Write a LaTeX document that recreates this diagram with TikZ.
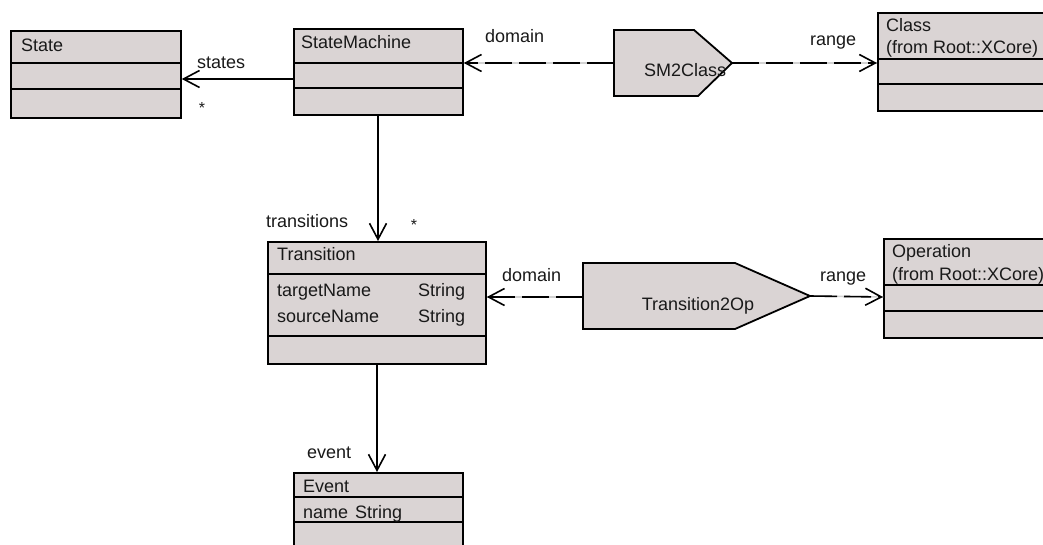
\documentclass[tikz,border=0pt]{standalone}
\usepackage{fontspec}
\setmainfont{Liberation Sans}
\usetikzlibrary{arrows.meta}
\definecolor{boxfill}{RGB}{218,212,212}
\definecolor{txtcol}{RGB}{25,25,25}
\begin{document}
\begin{tikzpicture}[x=1pt,y=-1pt,
  cls/.style={draw=black, line width=1.8pt, fill=boxfill, rectangle, inner sep=0pt, anchor=north west},
  divider/.style={line width=1.6pt},
  mapshape/.style={draw=black, line width=1.8pt, fill=boxfill, line join=miter},
  txt/.style={anchor=base west, inner sep=0pt, text=txtcol, font=\fontsize{18}{22}\selectfont},
  ctxt/.style={anchor=base, inner sep=0pt, text=txtcol, font=\fontsize{18}{22}\selectfont},
  star/.style={inner sep=0pt, text=txtcol, font=\fontsize{16}{18}\selectfont},
  tip/.style={-{Straight Barb[length=16pt,width=17pt,line width=1.6pt]}},
  assoc/.style={line width=1.6pt, tip},
  depbase/.style={line width=1.6pt, gray!35},
  dep/.style={line width=1.6pt, dash pattern=on 27pt off 7pt, tip}
]
\useasboundingbox (0,0) rectangle (1043,545);

% ---------- class boxes ----------
\node[cls, minimum width=170pt, minimum height=87pt] (state) at (10,30) {};
\draw[divider] (10,63) -- (180,63);
\draw[divider] (10,89) -- (180,89);
\node[txt] (stateT) at (21,52) {State};

\node[cls, minimum width=169pt, minimum height=86pt] (sm) at (293,28) {};
\draw[divider] (293,63) -- (462,63);
\draw[divider] (293,88) -- (462,88);
\node[txt] (smT) at (301,49) {StateMachine};

\node[cls, minimum width=180pt, minimum height=98pt] (cls) at (877,12) {};
\draw[divider] (877,59) -- (1057,59);
\draw[divider] (877,84) -- (1057,84);
\node[txt] (clsT1) at (886,32) {Class};
\node[txt] (clsT2) at (886,54) {(from Root::XCore)};

\node[cls, minimum width=180pt, minimum height=99pt] (op) at (883,238) {};
\draw[divider] (883,285) -- (1063,285);
\draw[divider] (883,311) -- (1063,311);
\node[txt] (opT1) at (892,258) {Operation};
\node[txt] (opT2) at (892,280) {(from Root::XCore)};

\node[cls, minimum width=218pt, minimum height=122pt] (tr) at (267,241) {};
\draw[divider] (267,274) -- (485,274);
\draw[divider] (267,336) -- (485,336);
\node[txt] (trT) at (277,261) {Transition};
\node[txt] (trA1) at (277,296) {targetName};
\node[txt] (trA1t) at (418,296) {String};
\node[txt] (trA2) at (277,322) {sourceName};
\node[txt] (trA2t) at (418,322) {String};

\node[cls, minimum width=169pt, minimum height=90pt] (ev) at (293,472) {};
\draw[divider] (293,497) -- (462,497);
\draw[divider] (293,522) -- (462,522);
\node[txt] (evT) at (303,492) {Event};
\node[txt] (evA) at (303,518) {name};
\node[txt] (evAt) at (355,518) {String};

% ---------- mapping shapes ----------
\draw[mapshape] (614,30) -- (694,30) -- (732,63) -- (698,96) -- (614,96) -- cycle;
\coordinate (smc-w) at (614,63);
\coordinate (smc-e) at (732,63);
\node[ctxt] (smc) at (685,77) {SM2Class};

\draw[mapshape] (583,263) -- (735,263) -- (810,296) -- (735,329) -- (583,329) -- cycle;
\coordinate (t2o-w) at (583,297);
\coordinate (t2o-e) at (810,296);
\node[ctxt] (t2o) at (698,310) {Transition2Op};

% ---------- associations ----------
\draw[assoc] (sm.west |- 0,79) -- (state.east |- 0,79);
\draw[assoc] (sm.south -| 378,0) -- (tr.north -| 378,0);
\draw[assoc] (tr.south -| 377,0) -- (ev.north -| 377,0);

% ---------- dependencies ----------
\draw[depbase] (smc-w) -- (sm.east |- smc-w);
\draw[dep] (smc-w) -- (sm.east |- smc-w);
\draw[depbase] (smc-e) -- (cls.west |- smc-e);
\draw[dep] (smc-e) -- (cls.west |- smc-e);
\draw[depbase] (t2o-w) -- (tr.east |- t2o-w);
\draw[dep] (t2o-w) -- (tr.east |- t2o-w);
\draw[depbase] (t2o-e) -- (op.west |- 0,297);
\draw[dep] (t2o-e) -- (op.west |- 0,297);

% ---------- labels ----------
\node[txt] (lstates) at (197,69) {states};
\node[star] (lstar1) at (202,108) {*};
\node[txt] (ldom1) at (485,43) {domain};
\node[txt] (lrange1) at (810,46) {range};
\node[txt] (ltrans) at (266,228) {transitions};
\node[star] (lstar2) at (414,225) {*};
\node[txt] (ldom2) at (502,281) {domain};
\node[txt] (lrange2) at (820,281) {range};
\node[txt] (levent) at (307,458) {event};
\end{tikzpicture}
\end{document}
